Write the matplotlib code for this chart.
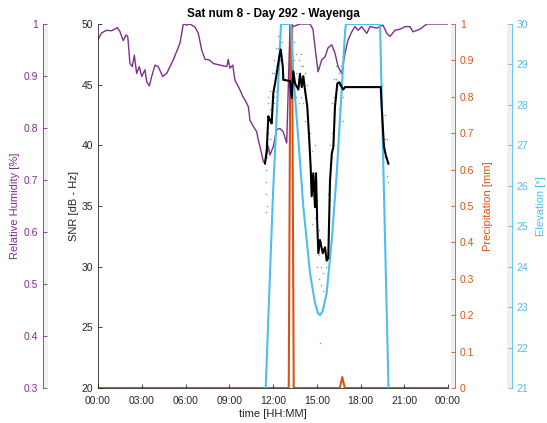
import matplotlib
matplotlib.use('Agg')
import matplotlib.pyplot as plt

plt.rcParams['font.family'] = ['Liberation Sans', 'DejaVu Sans']

# ---- data (time in hours of day 292) ----
snr_t = [11.45, 11.57, 11.68, 11.79, 11.91, 12.02, 12.14, 12.25, 12.43, 12.53,
         12.67, 12.71, 13.17, 13.28, 13.39, 13.51, 13.74, 13.85, 13.97, 14.08,
         14.19, 14.35, 14.49, 14.59, 14.65, 14.76, 14.88, 14.95, 15.04, 15.11,
         15.22, 15.41, 15.57, 15.68, 15.79, 15.91, 16.03, 16.14, 16.25, 16.41,
         16.55, 16.71, 16.82, 16.94, 19.39, 19.45, 19.61, 19.75, 19.91]
snr_v = [38.5, 39.6, 42.4, 42.1, 41.8, 44.3, 45.1, 45.9, 47.3, 47.9,
         46.5, 45.4, 45.3, 43.9, 46.1, 45.1, 44.6, 45.9, 44.8, 45.7,
         44.6, 43.2, 40.4, 38.0, 35.8, 37.7, 34.9, 37.7, 33.3, 31.1,
         32.2, 31.1, 31.6, 30.5, 30.7, 37.1, 39.3, 39.9, 43.2, 45.1,
         45.2, 44.8, 44.6, 44.8, 44.8, 43.2, 39.9, 39.1, 38.5]

# raw SNR observations (small dots)
obs_t = [11.52, 11.52, 11.52, 11.52, 11.60, 11.60, 11.60, 11.66, 11.66, 11.66, 11.66,
         11.79, 11.79, 11.79, 11.93, 11.93, 11.93, 12.07, 12.07, 12.07, 12.07,
         12.21, 12.21, 12.21, 12.34, 12.34, 12.34, 12.48, 12.48, 12.62, 12.62, 12.62,
         13.30, 13.30, 13.30, 13.45, 13.45, 13.45, 13.60, 13.60, 13.60, 13.75, 13.75, 13.75,
         13.90, 13.90, 13.90, 14.05, 14.05, 14.05, 14.20, 14.20, 14.20, 14.33, 14.33,
         14.54, 14.54, 14.70, 14.70, 14.70, 14.85, 14.85, 14.85, 15.00, 15.00, 15.00,
         15.15, 15.15, 15.15, 15.30, 15.30, 15.30, 15.45, 15.45, 15.45, 15.60, 15.60,
         15.75, 15.75, 15.02, 15.25,
         15.90, 15.90, 15.90, 16.05, 16.05, 16.05, 16.20, 16.20, 16.20, 16.35, 16.35, 16.35,
         16.50, 16.50, 16.50, 16.50, 16.65, 16.65, 16.80, 16.80,
         19.50, 19.50, 19.50, 19.65, 19.65, 19.65, 19.80, 19.80, 19.80, 19.89, 19.89]
obs_v = [37.0, 36.0, 38.0, 34.5, 39.0, 40.5, 35.0, 41.0, 43.5, 40.0, 44.0,
         43.0, 40.5, 44.5, 44.0, 42.5, 46.0, 46.0, 44.0, 47.0, 43.5,
         46.5, 48.0, 44.5, 48.0, 46.0, 49.0, 48.5, 47.0, 47.0, 45.5, 48.5,
         46.5, 48.0, 44.0, 47.0, 45.0, 48.5, 46.0, 44.0, 47.5, 45.5, 47.0, 43.5,
         46.5, 44.0, 47.5, 45.0, 46.5, 43.5, 44.5, 46.0, 42.0, 43.0, 45.0,
         38.0, 41.0, 36.0, 39.5, 33.5, 37.0, 34.0, 40.0, 32.5, 30.0, 35.5,
         31.0, 29.0, 33.0, 30.0, 28.5, 32.0, 29.5, 31.5, 28.0, 30.0, 28.0,
         33.0, 36.0, 26.3, 23.7,
         38.0, 40.0, 35.5, 41.0, 43.5, 39.0, 44.0, 45.5, 42.0, 45.5, 46.5, 44.0,
         45.0, 46.0, 43.0, 41.0, 44.5, 46.5, 44.0, 42.0,
         43.5, 41.0, 45.0, 40.5, 39.0, 42.5, 39.0, 37.5, 40.5, 38.5, 37.0]

rh_t = [0.02, 0.25, 0.60, 0.94, 1.32, 1.51, 1.73, 1.92, 2.04, 2.19, 2.35, 2.49,
        2.65, 2.83, 3.00, 3.22, 3.34, 3.52, 3.68, 3.91, 4.13, 4.44, 4.71, 5.16,
        5.62, 5.85, 6.08, 6.31, 6.65, 6.88, 7.11, 7.34, 7.63, 7.91, 8.37, 8.83,
        8.93, 9.05, 9.24, 9.39, 9.74, 9.94, 10.08, 10.31, 10.42, 10.65, 10.88,
        10.99, 11.11, 11.34, 11.45, 11.68, 11.79, 12.02, 12.25, 12.48, 12.69,
        12.94, 13.17, 13.37, 13.85, 14.54, 14.74, 14.88, 15.09, 15.34, 15.57,
        15.77, 16.03, 16.25, 16.46, 16.71, 16.94, 17.14, 17.40, 17.62, 17.83,
        18.08, 18.43, 18.65, 19.11, 19.54, 19.80, 20.02, 20.37, 20.71, 21.05,
        21.39, 21.60, 22.08, 22.54, 24.0]
rh_v = [0.971, 0.983, 0.988, 0.987, 0.993, 0.985, 0.968, 0.979, 0.976, 0.924,
        0.918, 0.940, 0.905, 0.918, 0.899, 0.912, 0.889, 0.881, 0.899, 0.921,
        0.918, 0.899, 0.905, 0.931, 0.963, 1.000, 0.998, 1.000, 0.994, 0.982,
        0.950, 0.932, 0.931, 0.924, 0.921, 0.918, 0.932, 0.915, 0.921, 0.892,
        0.873, 0.860, 0.854, 0.841, 0.815, 0.803, 0.793, 0.777, 0.764, 0.735,
        0.733, 0.764, 0.748, 0.764, 0.797, 0.799, 0.793, 0.771, 0.998, 0.995,
        1.000, 1.000, 0.990, 0.956, 0.908, 0.931, 0.937, 0.954, 0.960, 0.944,
        0.918, 0.905, 0.944, 0.969, 0.985, 0.995, 0.988, 0.995, 0.982, 0.995,
        0.992, 0.998, 0.982, 0.976, 0.988, 0.990, 0.995, 0.995, 0.985, 0.990,
        1.000, 1.000]

prec_t = [0.0, 13.08, 13.25, 13.42, 16.58, 16.75, 16.92, 24.0]
prec_v = [0.0, 0.0, 1.5, 0.0, 0.0, 0.03, 0.0, 0.0]

elev_t = [11.50, 12.00, 12.55, 13.23, 13.39, 13.74, 14.08, 14.54, 14.88, 15.09,
          15.22, 15.41, 15.68, 16.03, 16.37, 16.71, 16.94, 17.00, 19.34, 19.92]
elev_v = [21.0, 25.8, 30.0, 30.0, 28.78, 27.13, 25.48, 23.84, 23.1, 22.85,
          22.8, 22.9, 23.35, 24.66, 26.3, 28.37, 29.8, 30.0, 30.0, 21.0]

hour_ticks = [0, 3, 6, 9, 12, 15, 18, 21, 24]
hour_labels = ['00:00', '03:00', '06:00', '09:00', '12:00', '15:00', '18:00', '21:00', '00:00']

PURPLE = '#7E2F8E'
ORANGE = '#D95319'
BLUE = '#4DBEEE'
DARK = '#262626'
BAND = '#f0f0f0'

W, H = 547, 423
fig = plt.figure(figsize=(W / 100, H / 100), dpi=100)


def px_axes(x0, x1, y_top=24, y_bot=388):
    return fig.add_axes([x0 / W, (H - y_bot) / H, (x1 - x0) / W, (y_bot - y_top) / H])


ax = px_axes(98, 448)

# data layers for the extra scales
ax_pr = ax.twinx()
ax_rh = ax.twinx()
ax_el = ax.twinx()
for a in (ax_pr, ax_rh, ax_el):
    a.axis('off')
ax_pr.plot(prec_t, prec_v, color=ORANGE, lw=1.5)
ax_pr.set_ylim(0, 1)
ax_rh.plot(rh_t, rh_v, color=PURPLE, lw=1.0)
ax_rh.set_ylim(0.3, 1)
ax_el.plot(elev_t, elev_v, color=BLUE, lw=1.5)
ax_el.set_ylim(21, 30)

# main SNR axes on top
ax.set_zorder(5)
ax.patch.set_visible(False)
ax.plot(obs_t, obs_v, '.', color='#6fa8cf', ms=2.2, mew=0)
ax.plot(snr_t, snr_v, color='black', lw=1.5)
ax.set_xlim(0, 24)
ax.set_ylim(20, 50)
ax.set_xticks(hour_ticks)
ax.set_xticklabels(hour_labels)
ax.set_yticks([20, 25, 30, 35, 40, 45, 50])
for s in ('top', 'right'):
    ax.spines[s].set_visible(False)
for s in ('left', 'bottom'):
    ax.spines[s].set_color(DARK)
    ax.spines[s].set_linewidth(0.6)
ax.tick_params(direction='in', length=3, width=0.6, colors=DARK, labelsize=7.5)
ax.tick_params(axis='y', pad=3.5)
ax.tick_params(axis='x', pad=6)
ax.set_xlabel('time [HH:MM]', fontsize=8, color=DARK, labelpad=2)
ax.set_ylabel('SNR [dB - Hz]', fontsize=8, color=DARK, labelpad=2)
ax.set_title('Sat num 8 - Day 292 - Wayenga', fontsize=8.5, fontweight='bold', pad=5)


def scale_axes(x0, x1, lims, ticks, labels, color, side, label, labelpad):
    sa = px_axes(x0, x1)
    sa.set_facecolor(BAND)
    sa.set_ylim(*lims)
    sa.set_xticks([])
    for s in sa.spines.values():
        s.set_visible(False)
    sa.spines[side].set_visible(True)
    sa.spines[side].set_color(color)
    sa.spines[side].set_linewidth(0.6)
    sa.yaxis.set_ticks_position(side)
    sa.yaxis.set_label_position(side)
    sa.set_yticks(ticks)
    sa.set_yticklabels(labels)
    sa.tick_params(axis='y', direction='in', length=3, width=0.6,
                   colors=color, labelsize=7.5, pad=3.5)
    sa.set_ylabel(label, color=color, fontsize=8, labelpad=labelpad)
    return sa


scale_axes(43, 48, (0.3, 1), [0.3, 0.4, 0.5, 0.6, 0.7, 0.8, 0.9, 1.0],
           ['0.3', '0.4', '0.5', '0.6', '0.7', '0.8', '0.9', '1'],
           PURPLE, 'left', 'Relative Humidity [%]', 2.5)
scale_axes(451, 455, (0, 1), [0, 0.1, 0.2, 0.3, 0.4, 0.5, 0.6, 0.7, 0.8, 0.9, 1.0],
           ['0', '0.1', '0.2', '0.3', '0.4', '0.5', '0.6', '0.7', '0.8', '0.9', '1'],
           ORANGE, 'right', 'Precipitation [mm]', 6)
scale_axes(507, 512, (21, 30), list(range(21, 31)), [str(v) for v in range(21, 31)],
           BLUE, 'right', 'Elevation [°]', 5)

fig.savefig('out.png', dpi=100)
